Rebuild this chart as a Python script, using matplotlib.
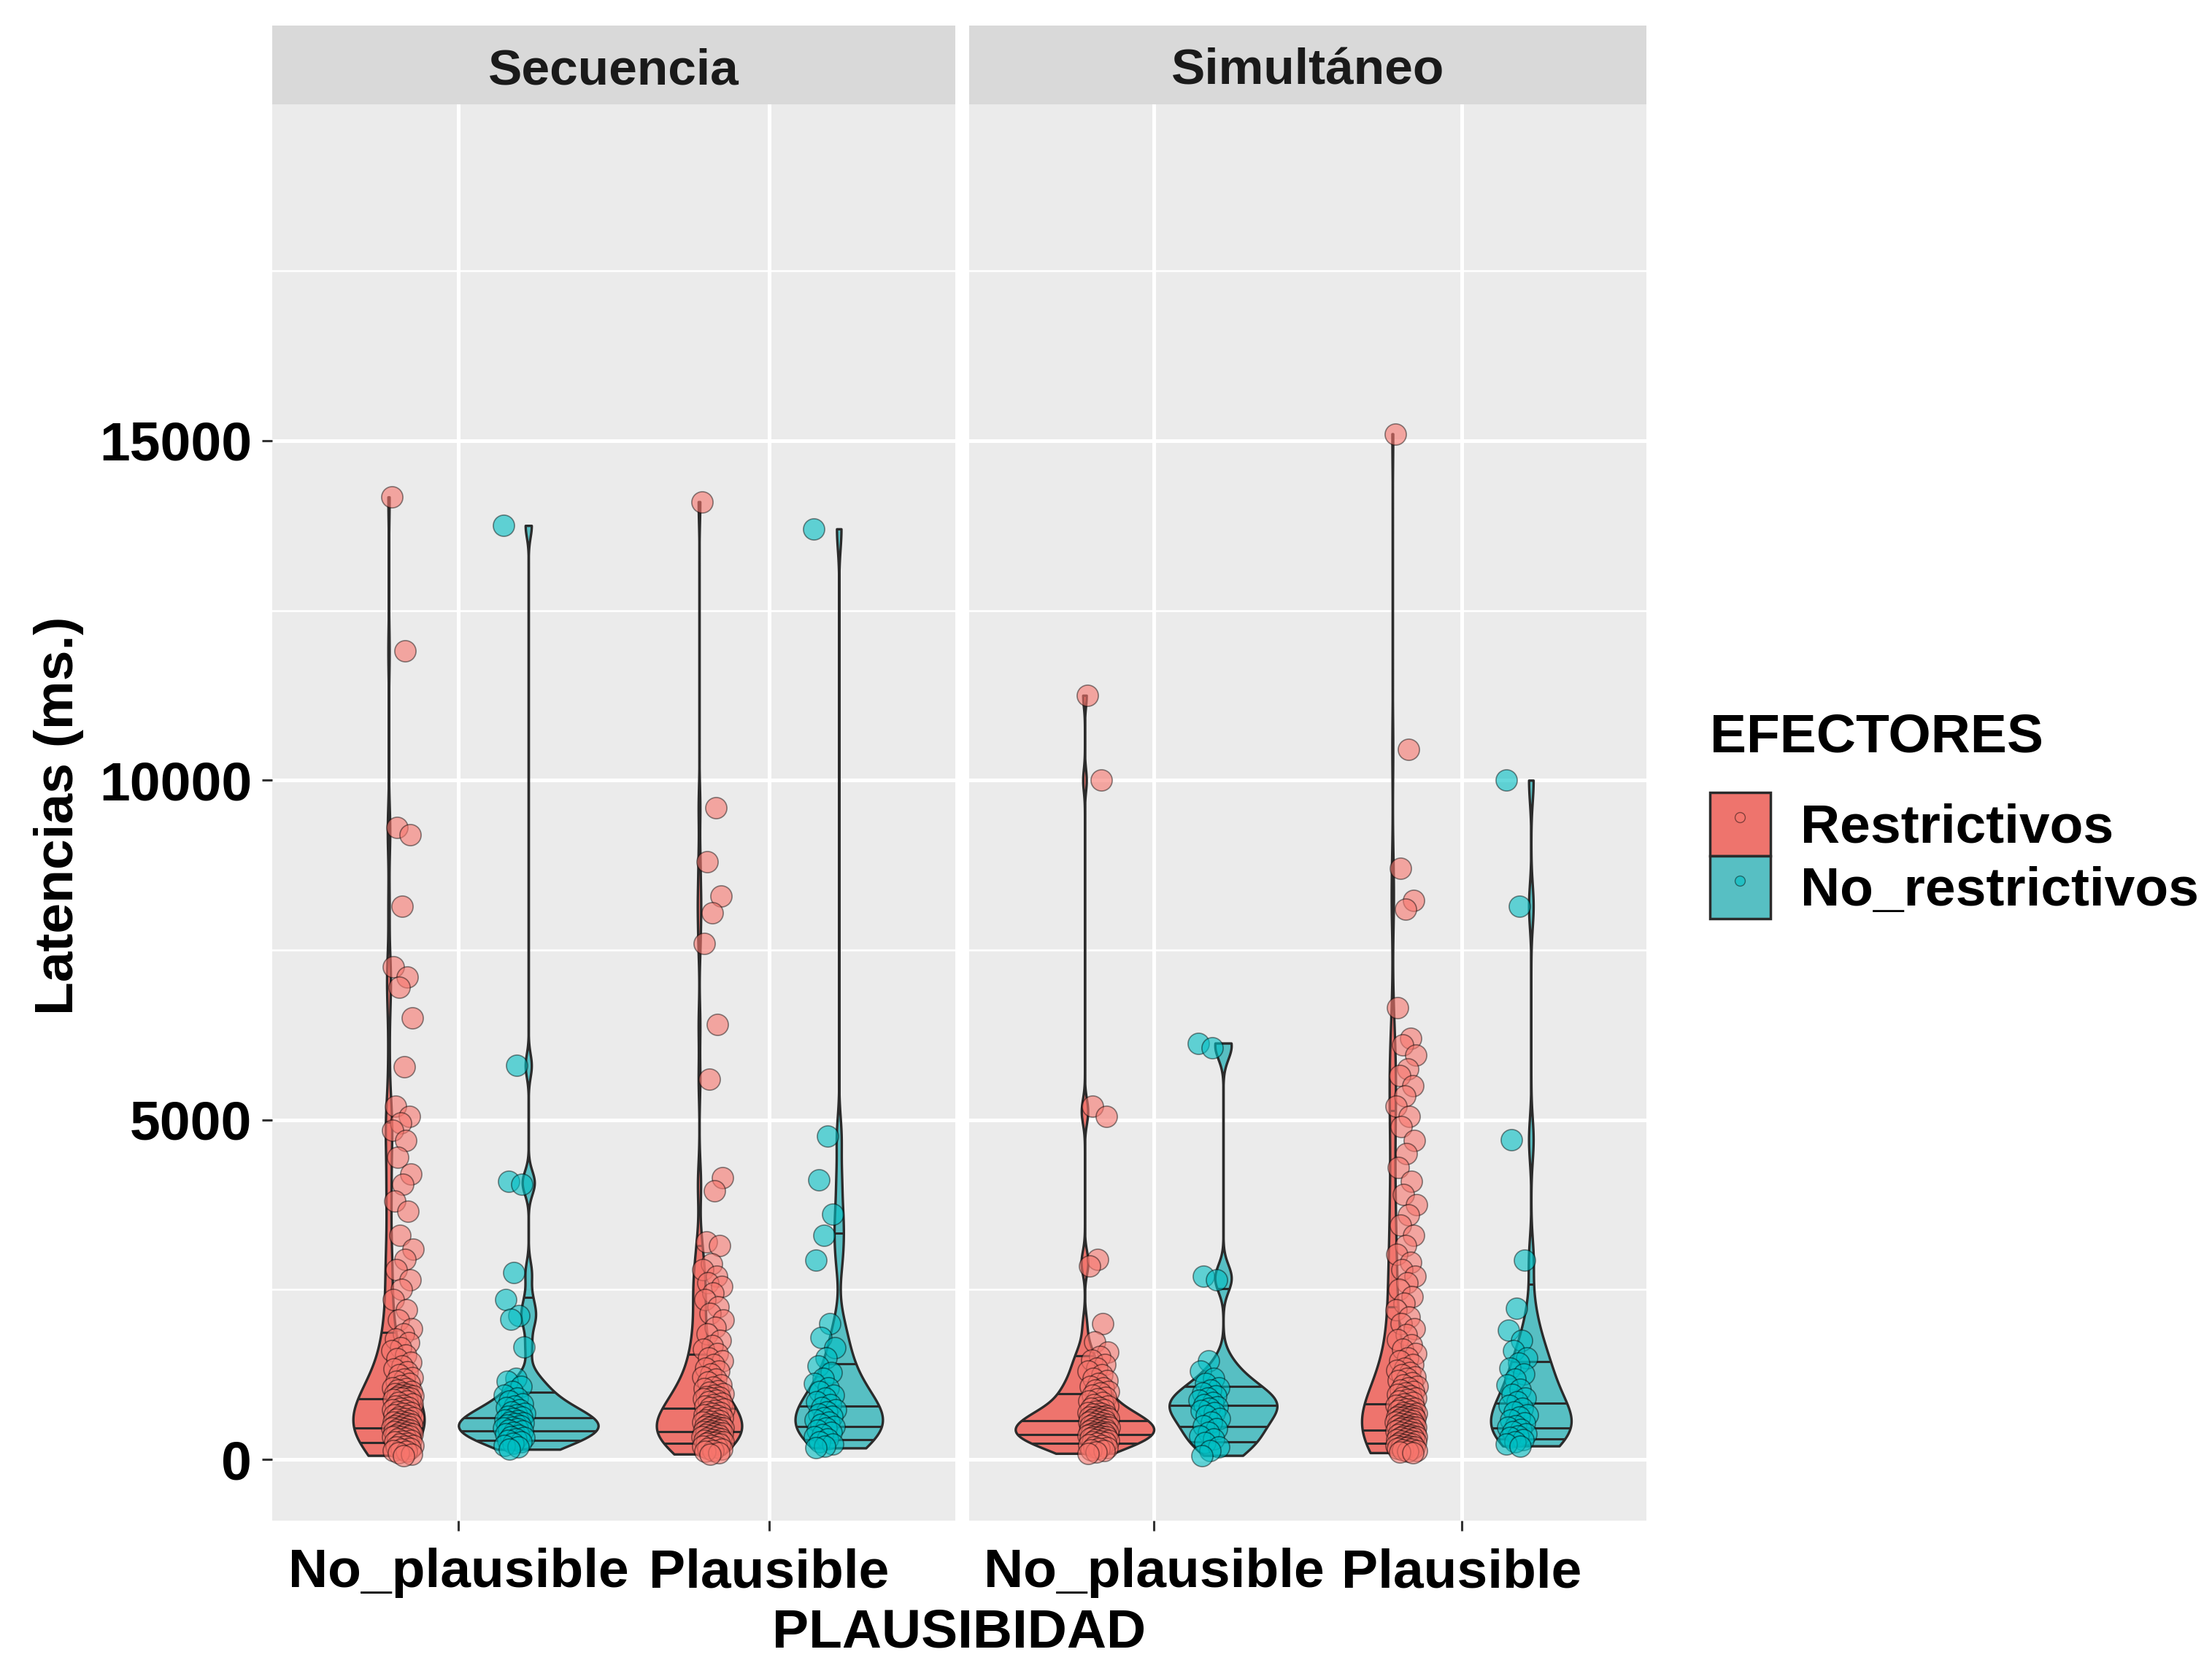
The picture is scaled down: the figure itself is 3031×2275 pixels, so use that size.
import numpy as np
import matplotlib
matplotlib.use("Agg")
import matplotlib.pyplot as plt
from matplotlib import cbook
from matplotlib.patches import Patch
from matplotlib.lines import Line2D

plt.rcParams['font.family'] = ['Liberation Sans', 'DejaVu Sans']
plt.rcParams['font.weight'] = 'bold'

# latencies (ms)
sec_noplaus_restr = [14170, 11900, 9300, 9200, 8150, 7250, 7100, 6950, 6500, 5780, 5200, 5050, 4950, 4850,
                     4700, 4450, 4200, 4050, 3800, 3650, 3300, 3100, 2950, 2800, 2650, 2500, 2350, 2200, 2050, 1920,
                     1850, 1780, 1720, 1650, 1600, 1540, 1480, 1430, 1380, 1330, 1290, 1250, 1210, 1180, 1150,
                     1120, 1090, 1060, 1040, 1020, 1000, 985, 970, 955, 945, 935, 925, 915, 910, 905,
                     880, 860, 840, 820, 800, 785, 770, 750, 735, 720, 700, 690, 675, 660, 645, 630, 615, 600,
                     590, 575, 560, 550, 540, 525, 515, 505, 495, 485, 475, 465,
                     450, 440, 430, 420, 410, 400, 390, 380, 370, 360, 350, 340, 330, 315, 300, 285, 270, 255,
                     240, 225, 210, 195, 180, 165, 150, 135, 120, 100, 80, 60]
sec_noplaus_norestr = [13750, 5800, 4100, 4050, 2750, 2350, 2120, 2060, 1660,
                       1200, 1150, 1080, 1000, 950, 900, 860, 820, 790, 760, 730, 700, 680, 660, 640, 620, 600,
                       585, 570, 555, 540, 525, 510, 495, 480, 465, 450, 435, 420, 400, 380, 360, 340, 320, 300,
                       280, 260, 240, 210, 180, 150]
sec_plaus_restr = [14100, 9600, 8800, 8300, 8050, 7600, 6400, 5600, 4150, 3950, 3200, 3150, 2880, 2800, 2700,
                   2600, 2550, 2450, 2350, 2250, 2150, 2050, 1950, 1850, 1750,
                   1680, 1620, 1560, 1500, 1450, 1400, 1350, 1300, 1260, 1220, 1180, 1140, 1100, 1070, 1040,
                   1010, 990, 970, 950, 930, 915, 905,
                   890, 870, 850, 830, 810, 790, 775, 760, 740, 720, 705, 690, 675, 660, 645, 630, 615, 600,
                   585, 570, 560, 545, 530, 520, 510, 500, 490, 480, 470, 462,
                   455, 445, 435, 425, 415, 405, 395, 385, 375, 365, 355, 345, 335, 325, 315, 305, 295, 285,
                   275, 265, 255, 245, 235, 225, 210, 195, 180, 165, 150, 135, 120, 100, 80]
sec_plaus_norestr = [13700, 4760, 4120, 3610, 3300, 2940, 2000, 1800,
                     1650, 1500, 1380, 1280, 1200, 1120, 1060, 1000, 950, 900, 850, 810, 770, 730, 700, 670,
                     640, 610, 580, 550, 520, 490, 460, 430, 400, 370, 340, 300, 260, 230, 200, 170]
sim_noplaus_restr = [11250, 10000, 5200, 5050, 2950, 2850, 2000, 1730,
                     1580, 1520, 1460, 1400, 1350, 1300, 1250, 1200, 1160, 1120, 1080, 1050, 1020, 1000,
                     980, 950, 920, 890, 860, 835, 810, 790, 770, 750, 730, 710, 695, 680, 665, 650, 640, 630,
                     620, 610, 600, 592,
                     580, 570, 560, 550, 540, 530, 520, 510, 500, 490, 480, 470, 460, 450, 440, 430, 420, 410,
                     400, 395, 390, 380, 375, 368,
                     360, 350, 340, 330, 320, 310, 300, 290, 280, 270, 260, 250, 235, 220, 205, 190, 175, 160,
                     145, 130, 110, 90]
sim_noplaus_norestr = [6130, 6060, 2700, 2640,
                       1450, 1300, 1200, 1120, 1060, 1020, 980, 940, 900, 870, 840, 810, 780, 750, 720, 690,
                       650, 600, 550, 500, 450, 400, 350, 300, 250, 190, 130, 60]
sim_plaus_restr = [15100, 10450, 8700, 8230, 8100, 6650, 6200, 6100, 5950, 5750, 5650, 5500, 5350, 5200, 5050,
                   4900, 4700, 4500, 4300, 4100, 3900, 3750, 3600, 3450, 3300, 3150, 3020,
                   2900, 2800, 2700, 2600, 2500, 2400, 2300, 2200, 2100, 2000, 1920, 1840, 1760, 1690, 1620,
                   1560, 1500, 1450, 1400, 1350, 1310, 1280, 1250, 1220,
                   1190, 1160, 1130, 1100, 1075, 1050, 1025, 1000, 980, 960, 940, 920, 900, 880, 860, 840,
                   820, 800, 785, 770, 755, 740, 725, 710, 695, 680, 670, 660, 650, 640,
                   630, 620, 610, 600, 590, 580, 570, 560, 550, 540, 530, 520, 510, 500, 490, 480, 470, 460,
                   450, 440, 430, 420, 410, 400, 390,
                   380, 370, 360, 350, 340, 330, 320, 310, 300, 290, 280, 270, 260, 250, 240, 230, 220, 210,
                   200, 190, 180, 170, 160, 150, 140, 130, 120, 110, 100]
sim_plaus_norestr = [10000, 8150, 4710, 2940, 2230,
                     1900, 1750, 1600, 1500, 1420, 1340, 1260, 1180, 1100, 1030, 960, 900, 850, 800, 750, 700,
                     660, 620, 580, 540, 500, 470, 440, 410, 380, 350, 320, 290, 260, 230, 200]

conditions = ["Secuencia", "Simultáneo"]
plaus_levels = ["No_plausible", "Plausible"]
efectores = ["Restrictivos", "No_restrictivos"]
panel_data = {
    "Secuencia": [[sec_noplaus_restr, sec_noplaus_norestr], [sec_plaus_restr, sec_plaus_norestr]],
    "Simultáneo": [[sim_noplaus_restr, sim_noplaus_norestr], [sim_plaus_restr, sim_plaus_norestr]],
}

fill_cols = ["#EE746D", "#57BFC3"]
point_cols = [(0.973, 0.463, 0.427, 0.6), (0.0, 0.749, 0.769, 0.6)]
quants = [0.1, 0.25, 0.5, 0.75, 0.9]


def nrd0(x):
    x = np.asarray(x, float)
    sd = np.std(x, ddof=1)
    iqr = np.subtract(*np.percentile(x, [75, 25]))
    lo = min(sd, iqr / 1.34)
    return 0.9 * lo * len(x) ** -0.2


def kde(x, coords):
    x = np.asarray(x, float)
    bw = nrd0(x)
    z = (coords[:, None] - x[None, :]) / bw
    return np.exp(-0.5 * z ** 2).sum(axis=1) / (len(x) * bw * np.sqrt(2 * np.pi))


fig = plt.figure(figsize=(30.31, 22.75), dpi=100)
W, H = 3031, 2275
panel_x = [(373, 936), (1328, 928)]
top, bottom = 143, 2084

for k, cond in enumerate(conditions):
    x0, w = panel_x[k]
    ax = fig.add_axes([x0 / W, 1 - bottom / H, w / W, (bottom - top) / H])
    ax.set_facecolor("#EBEBEB")
    for s in ax.spines.values():
        s.set_visible(False)

    groups, positions, cols = [], [], []
    for i, pl in enumerate(plaus_levels):
        for j in range(2):
            groups.append(panel_data[cond][i][j])
            positions.append(i + 1 + (-0.225 if j == 0 else 0.225))
            cols.append(j)
    stats = cbook.violin_stats(groups, kde, points=512)
    peak = max(s["vals"].max() for s in stats)
    widths = [0.45 * s["vals"].max() / peak for s in stats]

    parts = ax.violin(stats, positions=positions, widths=widths, showmeans=False,
                      showextrema=False, showmedians=False)
    for body, c in zip(parts["bodies"], cols):
        body.set_facecolor(fill_cols[c])
        body.set_edgecolor("#2b2b2b")
        body.set_alpha(1)
        body.set_linewidth(2.4)
        body.set_zorder(2)

    # quantile lines across the violin
    for s, pos, wd, g in zip(stats, positions, widths, groups):
        for q in quants:
            yq = np.percentile(g, q * 100)
            hw = 0.5 * wd * np.interp(yq, s["coords"], s["vals"]) / s["vals"].max()
            ax.plot([pos - hw, pos + hw], [yq, yq], color="#2b2b2b", lw=2.2, zorder=2.5,
                    solid_capstyle="butt")

    # jittered points
    for i in range(2):
        for j in range(2):
            vals = np.asarray(panel_data[cond][i][j], float)
            n = len(vals)
            offs = ((np.arange(n) * 0.618034) % 1 - 0.5) * 0.07
            xc = i + 1 + (-0.18 if j == 0 else 0.18)
            ax.scatter(xc + offs, vals, s=21 ** 2, facecolor=point_cols[j],
                       edgecolor=(0, 0, 0, 0.45), linewidths=1.2, zorder=3)

    ax.set_xlim(0.4, 2.6)
    ax.set_ylim(-900, 19950)
    ax.set_xticks([1, 2])
    ax.set_xticklabels(plaus_levels)
    ax.set_yticks([0, 5000, 10000, 15000])
    ax.set_yticks([2500, 7500, 12500, 17500], minor=True)
    ax.grid(True, which="major", color="white", lw=3.6)
    ax.grid(True, which="minor", axis="y", color="white", lw=1.8)
    ax.set_axisbelow(True)
    ax.tick_params(axis="both", which="major", length=10, width=2.2, color="#333333",
                   labelsize=54, labelcolor="black")
    ax.tick_params(axis="x", pad=17)
    ax.tick_params(axis="y", pad=10)
    ax.tick_params(which="minor", length=0)
    if k == 1:
        ax.tick_params(axis="y", labelleft=False, length=0)

    sax = fig.add_axes([x0 / W, 1 - top / H, w / W, 108 / H])
    sax.set_facecolor("#D9D9D9")
    sax.set_xticks([])
    sax.set_yticks([])
    for s in sax.spines.values():
        s.set_visible(False)
    sax.text(0.5, 0.42, cond, ha="center", va="center", fontsize=50, color="#1A1A1A",
             fontweight="bold", transform=sax.transAxes)

fig.text(81 / W, 1 - 1118 / H, "Latencias (ms.)", rotation=90, ha="center", va="center",
         fontsize=54, fontweight="bold")
fig.text(1314 / W, 1 - 2238 / H, "PLAUSIBIDAD", ha="center", va="center",
         fontsize=54, fontweight="bold")

# legend
fig.text(2343 / W, 1 - 1011 / H, "EFECTORES", ha="left", va="center",
         fontsize=54, fontweight="bold")
handles = []
for j in range(2):
    handles.append((Patch(facecolor=fill_cols[j], edgecolor="#2b2b2b", linewidth=2.5),
                    Line2D([], [], marker="o", linestyle="none", markersize=10,
                           markerfacecolor=point_cols[j], markeredgecolor=(0, 0, 0, 0.45))))
leg = fig.legend(handles, efectores, loc="upper left",
                 bbox_to_anchor=(2343 / W, 1 - 1086 / H), frameon=False, fontsize=54,
                 handlelength=1.1, handleheight=1.4, labelspacing=0.0,
                 handletextpad=0.55, borderpad=0, borderaxespad=0)

fig.savefig("out.png", dpi=100, facecolor="white")
